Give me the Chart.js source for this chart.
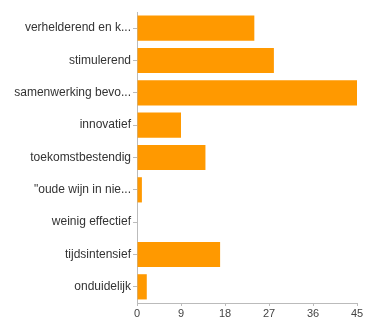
<!DOCTYPE html>
<html>
<head>
<meta charset="utf-8">
<script src="https://cdn.jsdelivr.net/npm/chart.js@4"></script>
<style>
  html, body { margin: 0; padding: 0; background: #fff; }
  #wrap { width: 366px; height: 320px; }
</style>
</head>
<body>
<div id="wrap"><canvas id="myChart" width="366" height="320"></canvas></div>
<script>
var labels = ["verhelderend en k...", "stimulerend", "samenwerking bevo...", "innovatief",
    "toekomstbestendig", "\"oude wijn in nie...", "weinig effectief", "tijdsintensief", "onduidelijk"];
var waarden = [24, 28, 45, 9, 14, 1, 0, 17, 2];
var xTicks = [0, 9, 18, 27, 36, 45];

var ctx = document.getElementById("myChart").getContext('2d');
var myChart = new Chart(ctx, {
    type: 'bar',
    data: {
        labels: labels,
        datasets: [{
            data: waarden,
            backgroundColor: '#ff9900',
            borderWidth: 0,
            barPercentage: 0.78,
            categoryPercentage: 1
        }]
    },
    options: {
        indexAxis: 'y',
        responsive: false,
        animation: false,
        layout: { padding: { top: 12, right: 9, left: 0, bottom: 0 } },
        plugins: { legend: { display: false }, tooltip: { enabled: false } },
        scales: {
            x: {
                min: 0,
                max: 45,
                afterBuildTicks: function (scale) {
                    scale.ticks = xTicks.map(function (v) { return { value: v }; });
                },
                afterFit: function (scale) { scale.height = 17; },
                grid: { drawOnChartArea: false, color: '#bbb', tickLength: 3 },
                border: { color: '#bbb' },
                ticks: { color: '#444', font: { family: 'Liberation Sans', size: 11 }, padding: 1, maxRotation: 0 }
            },
            y: {
                afterFit: function (scale) { scale.width = 137; },
                grid: { drawOnChartArea: false, color: '#bbb', tickLength: 4, offset: false },
                border: { color: '#bbb' },
                ticks: { color: '#333', font: { family: 'Liberation Sans', size: 12 }, padding: 2 }
            }
        }
    }
});
</script>
</body>
</html>
